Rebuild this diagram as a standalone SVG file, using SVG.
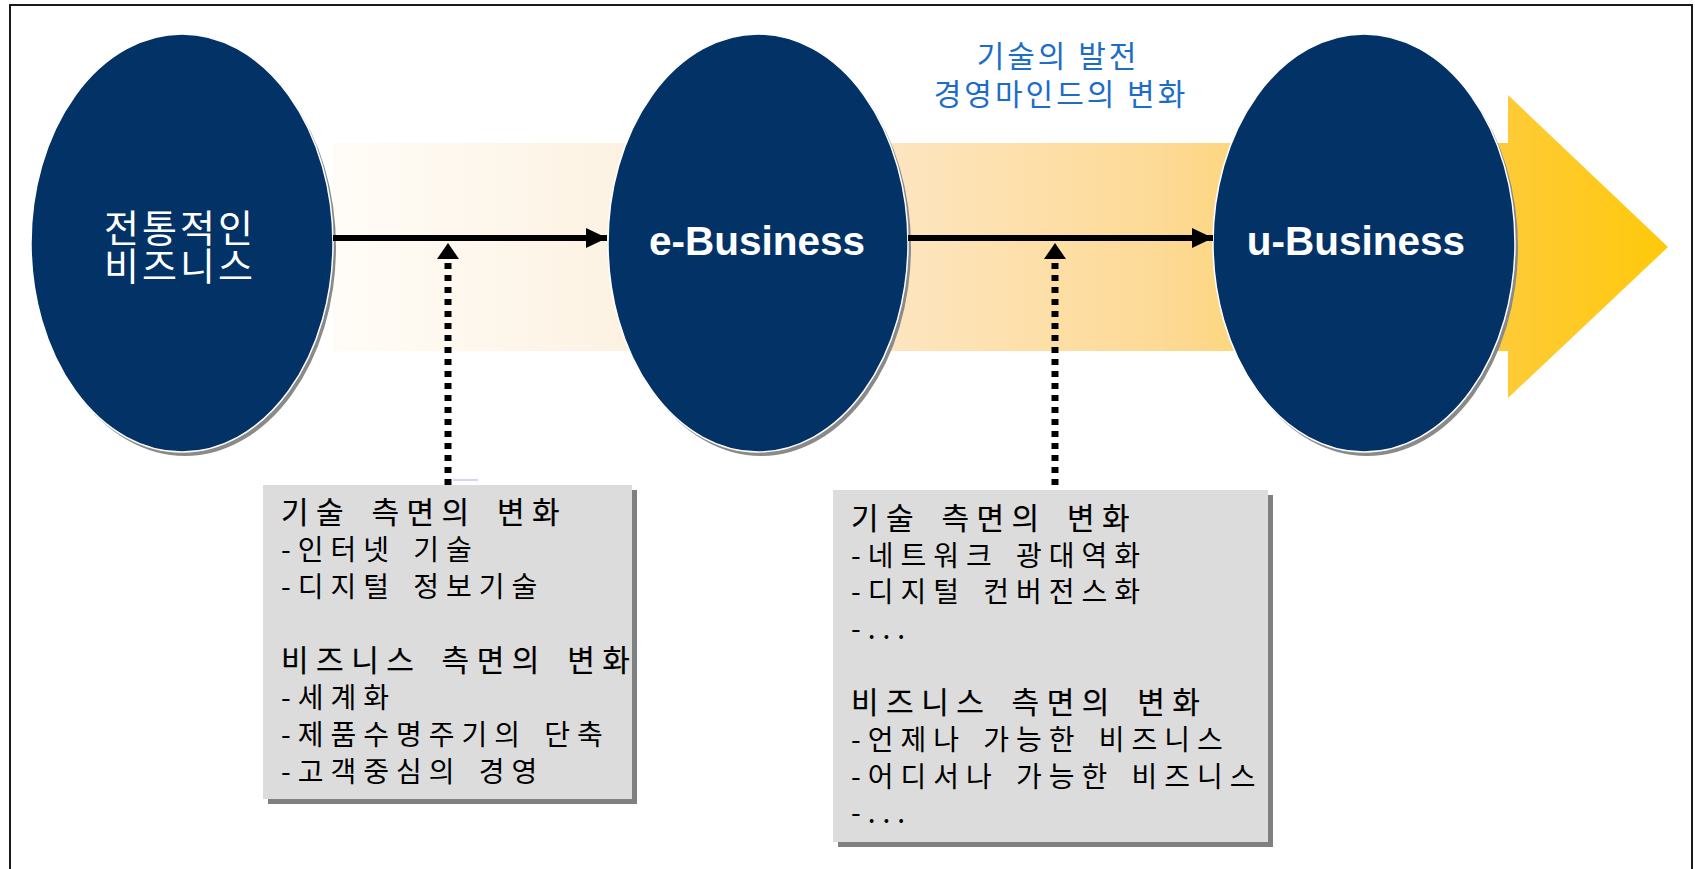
<svg xmlns="http://www.w3.org/2000/svg" width="1695" height="869" viewBox="0 0 1695 869">
<defs>
<linearGradient id="bandGrad" gradientUnits="userSpaceOnUse" x1="333" y1="0" x2="1668" y2="0">
<stop offset="0" stop-color="#fffcf7"/>
<stop offset="0.2" stop-color="#fdf3e4"/>
<stop offset="0.42" stop-color="#fde5c0"/>
<stop offset="0.62" stop-color="#fdda95"/>
<stop offset="0.82" stop-color="#fdcc4c"/>
<stop offset="1" stop-color="#ffc90a"/>
</linearGradient>
<marker id="solidHead" markerWidth="22" markerHeight="20" refX="21" refY="10" orient="auto" markerUnits="userSpaceOnUse">
<path d="M0,0 L21,10 L0,20 Z" fill="#000"/>
</marker>
</defs>
<style>
.frame{fill:none;stroke:#1a1a1a;stroke-width:2}
.shadow{fill:#8a8a8a}
.node{fill:#033366;stroke:#ffffff;stroke-width:1.5}
.ktxt{font-family:"Noto Sans CJK KR","Noto Sans",sans-serif}
.white{fill:#ffffff}
.btxt{font-family:"Liberation Sans",Arial,sans-serif;font-weight:bold;font-size:40.5px;fill:#ffffff}
.blue{fill:#1c6dc8;font-size:30px;letter-spacing:3px}
.box{fill:#dcdcdc}
.boxshadow{fill:#808080}
.item{font-size:28px;letter-spacing:7px;word-spacing:4px;fill:#000000}
.head{font-size:30px;letter-spacing:7.5px;word-spacing:6px;fill:#000000;stroke:#000000;stroke-width:0.2px}
.main{stroke:#000;stroke-width:6;fill:none}
.dots{stroke:#000;stroke-width:7;stroke-dasharray:6 6;fill:none}
</style>
<rect class="frame" x="10" y="5" width="1682" height="872"/>
<g id="band">
<rect x="333" y="143" width="1176" height="208" fill="url(#bandGrad)"/>
<polygon points="1508,95 1668,247 1508,398" fill="url(#bandGrad)"/>
</g>
<g id="blue-label">
<text class="ktxt blue" x="1058" y="67" text-anchor="middle">기술의 발전</text>
<text class="ktxt blue" x="1061" y="105" text-anchor="middle" letter-spacing="5">경영마인드의 변화</text>
</g>
<g id="node-traditional">
<ellipse class="shadow" cx="185" cy="247" rx="151" ry="209"/>
<ellipse class="node" cx="182" cy="243" rx="151" ry="209"/>
<text class="ktxt white" x="180" y="242" font-size="38" letter-spacing="3" text-anchor="middle">전통적인</text>
<text class="ktxt white" x="180" y="280" font-size="38" letter-spacing="3" text-anchor="middle">비즈니스</text>
</g>
<g id="node-ebusiness">
<ellipse class="shadow" cx="761" cy="247" rx="150" ry="209"/>
<ellipse class="node" cx="758" cy="243" rx="150" ry="209"/>
<text class="btxt" x="757" y="255" text-anchor="middle">e-Business</text>
</g>
<g id="node-ubusiness">
<ellipse class="shadow" cx="1367" cy="247" rx="151" ry="209"/>
<ellipse class="node" cx="1364" cy="243" rx="151" ry="209"/>
<text class="btxt" x="1356" y="255" text-anchor="middle">u-Business</text>
</g>
<g id="connectors">
<line class="main" x1="333" y1="238" x2="607" y2="238" marker-end="url(#solidHead)"/>
<line class="main" x1="908" y1="238" x2="1213" y2="238" marker-end="url(#solidHead)"/>
<line class="dots" x1="448" y1="263" x2="448" y2="485"/>
<polygon points="448,243 459,259 437,259" fill="#000"/>
<line x1="453" y1="480" x2="478" y2="480" stroke="#c8c8ee" stroke-width="1.5"/>
<line class="dots" x1="1055" y1="263" x2="1055" y2="490"/>
<polygon points="1055,243 1066,259 1044,259" fill="#000"/>
</g>
<g id="box-1">
<rect class="boxshadow" x="268" y="490" width="369" height="314"/>
<rect class="box" x="263" y="485" width="369" height="314"/>
<g class="ktxt">
<text class="head" x="281" y="523">기술 측면의 변화</text>
<text class="item" x="281" y="560">-인터넷 기술</text>
<text class="item" x="281" y="597">-디지털 정보기술</text>
<text class="head" x="281" y="671">비즈니스 측면의 변화</text>
<text class="item" x="281" y="708">-세계화</text>
<text class="item" x="281" y="745">-제품수명주기의 단축</text>
<text class="item" x="281" y="782">-고객중심의 경영</text>
</g>
</g>
<g id="box-2">
<rect class="boxshadow" x="838" y="495" width="435" height="352"/>
<rect class="box" x="833" y="490" width="435" height="352"/>
<g class="ktxt">
<text class="head" x="851" y="529">기술 측면의 변화</text>
<text class="item" x="851" y="566">-네트워크 광대역화</text>
<text class="item" x="851" y="602">-디지털 컨버전스화</text>
<text class="item" x="851" y="639">-...</text>
<text class="head" x="851" y="713">비즈니스 측면의 변화</text>
<text class="item" x="851" y="750">-언제나 가능한 비즈니스</text>
<text class="item" x="851" y="787">-어디서나 가능한 비즈니스</text>
<text class="item" x="851" y="823">-...</text>
</g>
</g>
</svg>
